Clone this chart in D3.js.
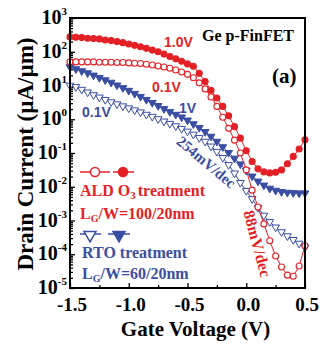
<!DOCTYPE html>
<html>
<head>
<meta charset="utf-8">
<script src="https://cdn.jsdelivr.net/npm/d3@7"></script>
<style>
  body { margin: 0; background: #fff; }
  svg { display: block; }
</style>
</head>
<body>
<div id="vis"></div>
<script>
const FRAME_WIDTH = 324;
const FRAME_HEIGHT = 350;
const MARGINS = {left: 70, right: 19, top: 18, bottom: 62};

const RED = "#e41f26";
const BLUE = "#3a4ea3";
const SERIF = "'Liberation Serif', 'Times New Roman', serif";
const SANS = "'Liberation Sans', Arial, sans-serif";

// gate voltage sweep (V)
const VG = [-1.5, -1.45, -1.4, -1.35, -1.3, -1.25, -1.2, -1.15, -1.1, -1.05,
            -1.0, -0.95, -0.9, -0.85, -0.8, -0.75, -0.7, -0.65, -0.6, -0.55,
            -0.5, -0.45, -0.4, -0.35, -0.3, -0.25, -0.2, -0.15, -0.1, -0.05,
            0.0, 0.05, 0.1, 0.15, 0.2, 0.25, 0.3, 0.35, 0.4, 0.45, 0.5];

// drain current (uA/um), ALD O3, VD = 1.0V
const ALD_1V = [275, 269, 263, 251, 245, 240, 224, 214, 200, 186,
                170, 155, 141, 126, 112, 100, 85.1, 72.4, 61.7, 52.5,
                43.7, 37.2, 22.9, 13.2, 7.24, 4.27, 2.40, 1.26, 0.603, 0.275,
                0.117, 0.0562, 0.0339, 0.0275, 0.0257, 0.0269, 0.0316, 0.0479, 0.0794, 0.132,
                0.245];
// ALD O3, VD = 0.1V
const ALD_01V = [50.1, 50.1, 50.1, 50.1, 50.1, 49.0, 49.0, 49.0, 47.9, 47.9,
                 46.8, 45.7, 44.7, 42.7, 40.7, 38.0, 35.5, 32.4, 28.8, 25.1,
                 21.4, 17.0, 12.0, 7.94, 4.57, 2.40, 1.15, 0.537, 0.240, 0.100,
                 0.0316, 0.00794, 0.00251, 7.94e-4, 2.51e-4, 8.91e-5, 4.17e-5, 2.40e-5, 2.24e-5, 4.47e-5,
                 1.78e-4];
// RTO, VD = 1V
const RTO_1V = [35.5, 30.9, 26.9, 23.4, 20.0, 17.0, 14.5, 12.3, 10.2, 8.51,
                7.08, 5.75, 4.68, 3.80, 3.09, 2.51, 2.04, 1.66, 1.38, 1.15,
                0.933, 0.724, 0.562, 0.427, 0.309, 0.219, 0.151, 0.102, 0.0692, 0.0468,
                0.0302, 0.0204, 0.0145, 0.0110, 0.00891, 0.00776, 0.00708, 0.00676, 0.00661, 0.00646,
                0.00646];
// RTO, VD = 0.1V
const RTO_01V = [10.0, 9.12, 7.59, 6.31, 5.25, 4.47, 3.80, 3.24, 2.82, 2.45,
                 2.14, 1.86, 1.62, 1.38, 1.20, 1.02, 0.871, 0.741, 0.631, 0.525,
                 0.437, 0.355, 0.282, 0.219, 0.158, 0.110, 0.0724, 0.0447, 0.0251, 0.0132,
                 0.00759, 0.00437, 0.00240, 0.00141, 9.12e-4, 6.31e-4, 4.57e-4, 3.47e-4, 2.69e-4, 2.09e-4,
                 1.62e-4];

const X_TICKS = [-1.5, -1.0, -0.5, 0.0, 0.5];
const X_MINOR = [-1.25, -0.75, -0.25, 0.25];
const Y_EXPONENTS = [3, 2, 1, 0, -1, -2, -3, -4, -5];

const FRAME = d3.select("#vis")
                .append("svg")
                .attr("width", FRAME_WIDTH)
                .attr("height", FRAME_HEIGHT);

const X_SCALE = d3.scaleLinear()
                  .domain([-1.5, 0.5])
                  .range([MARGINS.left, FRAME_WIDTH - MARGINS.right]);

const Y_SCALE = d3.scaleLog()
                  .domain([1e-5, 1e3])
                  .range([FRAME_HEIGHT - MARGINS.bottom, MARGINS.top]);

const X0 = MARGINS.left, X1 = FRAME_WIDTH - MARGINS.right;
const Y0 = MARGINS.top, Y1 = FRAME_HEIGHT - MARGINS.bottom;

// minor log ticks
const Y_MINOR = [];
Y_EXPONENTS.slice(1).forEach((e) => {
  for (let m = 2; m <= 9; m++) Y_MINOR.push(m * Math.pow(10, e));
});

// axes (ticks pointing inward)
FRAME.append("g")
     .attr("transform", "translate(0," + Y1 + ")")
     .call(d3.axisBottom(X_SCALE).tickValues(X_TICKS).tickSize(-5).tickFormat(""))
     .call(g => g.select(".domain").remove());
FRAME.append("g")
     .attr("transform", "translate(0," + Y1 + ")")
     .call(d3.axisBottom(X_SCALE).tickValues(X_MINOR).tickSize(-3).tickFormat(""))
     .call(g => g.select(".domain").remove());
FRAME.append("g")
     .attr("transform", "translate(" + X0 + ",0)")
     .call(d3.axisLeft(Y_SCALE).tickValues(Y_EXPONENTS.map(e => Math.pow(10, e))).tickSize(-5).tickFormat(""))
     .call(g => g.select(".domain").remove());
FRAME.append("g")
     .attr("transform", "translate(" + X0 + ",0)")
     .call(d3.axisLeft(Y_SCALE).tickValues(Y_MINOR).tickSize(-3).tickFormat(""))
     .call(g => g.select(".domain").remove());

FRAME.selectAll(".tick line").attr("stroke", "#000").attr("stroke-width", 1.3);

// tick labels
FRAME.selectAll(".xlab")
     .data(X_TICKS)
     .enter()
     .append("text")
       .attr("x", d => X_SCALE(d) + 2)
       .attr("y", Y1 + 23)
       .attr("text-anchor", "middle")
       .attr("font-family", SERIF)
       .attr("font-weight", "bold")
       .attr("font-size", 19)
       .text(d => d.toFixed(1));

const YL = FRAME.selectAll(".ylab")
     .data(Y_EXPONENTS)
     .enter()
     .append("text")
       .attr("x", X0 - 3)
       .attr("y", d => Y_SCALE(Math.pow(10, d)) + 6)
       .attr("text-anchor", "end")
       .attr("font-family", SERIF)
       .attr("font-weight", "bold")
       .attr("font-size", 20);
YL.append("tspan").text("10");
YL.append("tspan").attr("dy", -9).attr("font-size", 11).text(d => d);

// axis titles
FRAME.append("text")
     .attr("x", (X0 + X1) / 2 + 8)
     .attr("y", 336)
     .attr("text-anchor", "middle")
     .attr("font-family", SERIF)
     .attr("font-weight", "bold")
     .attr("font-size", 21)
     .text("Gate Voltage (V)");

FRAME.append("text")
     .attr("transform", "translate(33,154) rotate(-90)")
     .attr("text-anchor", "middle")
     .attr("font-family", SERIF)
     .attr("font-weight", "bold")
     .attr("font-size", 23)
     .text("Drain Current (\u00b5A/\u00b5m)");

// curves
const line = d3.line()
               .x((d, i) => X_SCALE(VG[i]))
               .y(d => Y_SCALE(d));

const TRI = d3.symbol().type(d3.symbolTriangle).size(26);
const TRI_BIG = d3.symbol().type(d3.symbolTriangle).size(62);

function drawTriangles(values, filled) {
  FRAME.append("path")
       .attr("d", line(values))
       .attr("fill", "none")
       .attr("stroke", BLUE)
       .attr("stroke-width", 1);
  FRAME.append("g").selectAll("path")
       .data(values)
       .enter()
       .append("path")
         .attr("d", TRI)
         .attr("transform", (d, i) => "translate(" + X_SCALE(VG[i]) + "," + Y_SCALE(d) + ") rotate(180)")
         .attr("fill", filled ? BLUE : "#fff")
         .attr("stroke", BLUE)
         .attr("stroke-width", 1);
}

function drawCircles(values, filled) {
  FRAME.append("path")
       .attr("d", line(values))
       .attr("fill", "none")
       .attr("stroke", RED)
       .attr("stroke-width", 1);
  FRAME.append("g").selectAll("circle")
       .data(values)
       .enter()
       .append("circle")
         .attr("cx", (d, i) => X_SCALE(VG[i]))
         .attr("cy", d => Y_SCALE(d))
         .attr("r", 3)
         .attr("fill", filled ? RED : "#fff")
         .attr("stroke", RED)
         .attr("stroke-width", 1.1);
}

drawTriangles(RTO_01V, false);
drawTriangles(RTO_1V, true);
drawCircles(ALD_01V, false);
drawCircles(ALD_1V, true);

// frame
FRAME.append("rect")
     .attr("x", X0)
     .attr("y", Y0)
     .attr("width", X1 - X0)
     .attr("height", Y1 - Y0)
     .attr("fill", "none")
     .attr("stroke", "#000")
     .attr("stroke-width", 2);

// curve labels
function label(txt, x, y, color, size, family, weight) {
  return FRAME.append("text")
       .attr("x", x)
       .attr("y", y)
       .attr("fill", color)
       .attr("font-family", family)
       .attr("font-weight", weight)
       .attr("font-size", size)
       .text(txt);
}
label("1.0V", 164, 47, RED, 14, SANS, "bold");
label("0.1V", 152, 92, RED, 14, SANS, "bold");
label("1V", 179, 113, BLUE, 14, SANS, "bold");
label("0.1V", 82, 117, BLUE, 14, SANS, "bold");
label("Ge p-FinFET", 202, 41, "#000", 16, SERIF, "bold");
label("(a)", 272, 83, "#000", 21, SERIF, "bold");

FRAME.append("text")
     .attr("transform", "translate(203,166) rotate(40)")
     .attr("text-anchor", "middle")
     .attr("fill", BLUE)
     .attr("font-family", SERIF)
     .attr("font-weight", "bold")
     .attr("font-size", 15)
     .text("254mV/dec");

FRAME.append("text")
     .attr("transform", "translate(252,245) rotate(75)")
     .attr("text-anchor", "middle")
     .attr("fill", RED)
     .attr("font-family", SERIF)
     .attr("font-weight", "bold")
     .attr("font-size", 16)
     .text("88mV/dec");

// legend
FRAME.append("line").attr("x1", 80).attr("x2", 110).attr("y1", 172).attr("y2", 172)
     .attr("stroke", RED).attr("stroke-width", 1.5);
FRAME.append("circle").attr("cx", 95).attr("cy", 172).attr("r", 4.5)
     .attr("fill", "#fff").attr("stroke", RED).attr("stroke-width", 1.5);
FRAME.append("line").attr("x1", 113).attr("x2", 134).attr("y1", 172).attr("y2", 172)
     .attr("stroke", RED).attr("stroke-width", 1.5);
FRAME.append("circle").attr("cx", 123).attr("cy", 172).attr("r", 4.5)
     .attr("fill", RED).attr("stroke", RED).attr("stroke-width", 1.5);

FRAME.append("line").attr("x1", 80).attr("x2", 101).attr("y1", 234).attr("y2", 234)
     .attr("stroke", BLUE).attr("stroke-width", 1.5);
FRAME.append("path").attr("d", TRI_BIG).attr("transform", "translate(90,235) rotate(180)")
     .attr("fill", "#fff").attr("stroke", BLUE).attr("stroke-width", 1.5);
FRAME.append("line").attr("x1", 108).attr("x2", 130).attr("y1", 234).attr("y2", 234)
     .attr("stroke", BLUE).attr("stroke-width", 1.5);
FRAME.append("path").attr("d", TRI_BIG).attr("transform", "translate(119,235) rotate(180)")
     .attr("fill", BLUE).attr("stroke", BLUE).attr("stroke-width", 1.5);

const T1 = label("ALD O", 80, 196, RED, 16, SERIF, "bold");
T1.append("tspan").attr("dy", 3).attr("font-size", 11).text("3");
T1.append("tspan").attr("dy", -3).attr("dx", 2).text("treatment");

const T2 = label("L", 80, 219, RED, 16, SERIF, "bold");
T2.append("tspan").attr("dy", 3).attr("font-size", 10).text("G");
T2.append("tspan").attr("dy", -3).text("/W=100/20nm");

label("RTO treatment", 82, 258, BLUE, 16, SERIF, "bold");

const T4 = label("L", 82, 279, BLUE, 16, SERIF, "bold");
T4.append("tspan").attr("dy", 3).attr("font-size", 10).text("G");
T4.append("tspan").attr("dy", -3).text("/W=60/20nm");
</script>
</body>
</html>
